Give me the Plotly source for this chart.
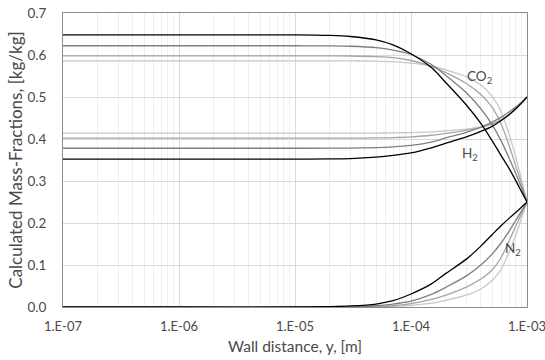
import math
import plotly.graph_objects as go

# Wall distance grid [m]
wall_distance = [1e-7, 1e-6, 1e-5, 2e-5, 3e-5, 5e-5, 7e-5, 1e-4, 1.5e-4, 2e-4,
                 3e-4, 4e-4, 5e-4, 6e-4, 7e-4, 8e-4, 9e-4, 1e-3]

# Four cases: black, dark gray, mid gray, light gray
co2_case1 = [0.648, 0.648, 0.648, 0.6465, 0.644, 0.636, 0.624, 0.603, 0.570, 0.534,
             0.481, 0.437, 0.396, 0.360, 0.330, 0.301, 0.274, 0.25]
co2_case2 = [0.622, 0.622, 0.622, 0.6216, 0.6208, 0.6175, 0.6117, 0.6012, 0.5774, 0.551,
             0.510, 0.472, 0.434, 0.395, 0.355, 0.318, 0.283, 0.25]
co2_case3 = [0.598, 0.598, 0.598, 0.598, 0.5976, 0.5962, 0.5937, 0.5869, 0.5731, 0.558,
             0.532, 0.506, 0.4757, 0.435, 0.385, 0.336, 0.292, 0.25]
co2_case4 = [0.586, 0.586, 0.586, 0.586, 0.586, 0.5853, 0.5840, 0.5807, 0.5740, 0.5644,
             0.5485, 0.5284, 0.5015, 0.4650, 0.4113, 0.3575, 0.3009, 0.25]

h2_case1 = [0.352, 0.352, 0.352, 0.3525, 0.3535, 0.357, 0.361, 0.367, 0.379, 0.390,
            0.405, 0.418, 0.430, 0.444, 0.458, 0.472, 0.486, 0.5]
h2_case2 = [0.378, 0.378, 0.378, 0.3781, 0.3784, 0.3795, 0.3813, 0.3848, 0.3926, 0.4024,
            0.4158, 0.4280, 0.4402, 0.452, 0.4645, 0.476, 0.488, 0.5]
h2_case3 = [0.402, 0.402, 0.402, 0.402, 0.4021, 0.4025, 0.4033, 0.4051, 0.4089, 0.4135,
            0.4205, 0.4275, 0.436, 0.4465, 0.458, 0.4715, 0.4855, 0.5]
h2_case4 = [0.414, 0.414, 0.414, 0.414, 0.414, 0.4142, 0.4145, 0.4153, 0.4170, 0.4196,
            0.4235, 0.4286, 0.4355, 0.4450, 0.4587, 0.4715, 0.486, 0.5]

n2_case1 = [0, 0, 0, 0.001, 0.0025, 0.007, 0.015, 0.031, 0.055, 0.080,
            0.114, 0.145, 0.172, 0.194, 0.211, 0.225, 0.238, 0.25]
n2_case2 = [0, 0, 0, 0.0003, 0.0008, 0.003, 0.007, 0.014, 0.030, 0.047,
            0.074, 0.100, 0.126, 0.153, 0.180, 0.206, 0.229, 0.25]
n2_case3 = [0, 0, 0, 0, 0.0003, 0.0013, 0.003, 0.008, 0.018, 0.0285,
            0.0475, 0.0665, 0.088, 0.1185, 0.157, 0.1925, 0.2225, 0.25]
n2_case4 = [0, 0, 0, 0, 0, 0.0005, 0.0015, 0.004, 0.009, 0.016,
            0.028, 0.043, 0.063, 0.090, 0.130, 0.171, 0.213, 0.25]

x_tickvals = [1e-7, 1e-6, 1e-5, 1e-4, 1e-3]
x_ticktext = ["1.E-07", "1.E-06", "1.E-05", "1.E-04", "1.E-03"]
y_tickvals = [0.0, 0.1, 0.2, 0.3, 0.4, 0.5, 0.6, 0.7]

labels = ["CO<sub>2</sub>", "H<sub>2</sub>", "N<sub>2</sub>"]
label_x = [3.87e-4, 3.22e-4, 7.6e-4]
label_y = [0.548, 0.365, 0.137]

case_colors = ["#000000", "#7f7f7f", "#a5a5a5", "#c8c8c8"]

cases = [
    (co2_case1, h2_case1, n2_case1),
    (co2_case2, h2_case2, n2_case2),
    (co2_case3, h2_case3, n2_case3),
    (co2_case4, h2_case4, n2_case4),
]

fig = go.Figure()
# draw lightest first so black is on top
for idx in reversed(range(len(cases))):
    for series in cases[idx]:
        fig.add_trace(go.Scatter(
            x=wall_distance, y=series, mode="lines",
            line=dict(color=case_colors[idx], width=1.3, shape="spline", smoothing=0.8),
            showlegend=False, hoverinfo="skip", cliponaxis=False))

minor_vals = [k * 10.0 ** e for e in range(-7, -3) for k in range(2, 10)]

font_family = "Lato, Carlito, 'Open Sans', sans-serif"
text_color = "#4a4a4a"

fig.update_layout(
    width=545, height=360,
    margin=dict(l=63, r=18, t=13, b=53),
    paper_bgcolor="white", plot_bgcolor="white",
    font=dict(family=font_family, size=13, color=text_color),
    xaxis=dict(
        type="log", range=[-7, -3], automargin=False,
        tickvals=x_tickvals, ticktext=x_ticktext,
        showgrid=True, gridcolor="#d9d9d9", gridwidth=1,
        minor=dict(tickvals=minor_vals, showgrid=True, gridcolor="#efefef", gridwidth=1, ticks=""),
        showline=True, linecolor="#8c8c8c", linewidth=1, mirror=True,
        ticks="", zeroline=False, ticklabeloverflow="allow", ticklabelstandoff=7,
        title=dict(text="Wall distance, y, [m]", font=dict(size=15.5, color=text_color), standoff=8),
        tickfont=dict(size=13, color=text_color),
    ),
    yaxis=dict(
        range=[0, 0.7], tickvals=y_tickvals, tickformat=".1f", automargin=False,
        showgrid=True, gridcolor="#d9d9d9", gridwidth=1,
        showline=True, linecolor="#8c8c8c", linewidth=1, mirror=True,
        ticks="", zeroline=False, ticklabelstandoff=13,
        title=dict(text="Calculated Mass-Fractions, [kg/kg]", font=dict(size=17, color=text_color), standoff=0),
        tickfont=dict(size=13.5, color=text_color),
    ),
)

for text, lx, ly in zip(labels, label_x, label_y):
    fig.add_annotation(x=math.log10(lx), y=ly, xref="x", yref="y", text=text, showarrow=False,
                       font=dict(size=13.5, color=text_color, family=font_family))

fig.write_html("out.html")
